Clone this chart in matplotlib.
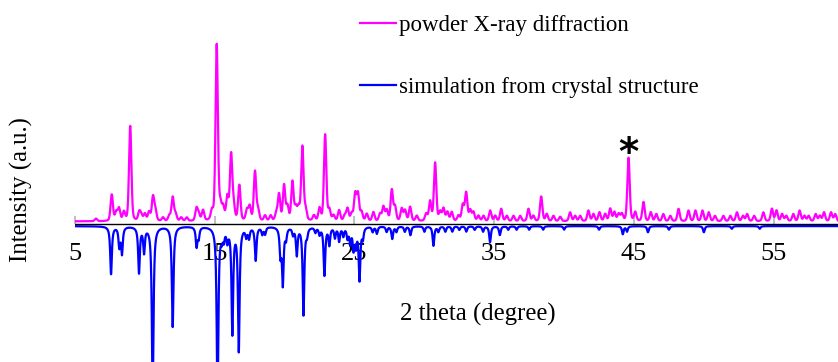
import matplotlib.pyplot as plt
import numpy as np

# peak positions (2 theta) and heights, PXRD scaled so the tallest = 100
pxrd_pos = [6.5, 7.63, 7.95, 8.15, 8.5, 8.95, 9.6, 9.75, 10.0, 10.3, 10.58, 10.75, 11.3, 11.75,
            11.99, 12.2, 12.6, 13.0, 13.69, 13.85, 14.16, 14.8, 15.14, 15.4, 15.6, 15.9, 16.17,
            16.35, 16.76, 17.3, 17.5, 17.88, 18.1, 18.6, 19.0, 19.4, 19.6, 19.96, 20.2, 20.56,
            20.8, 21.0, 21.27, 21.5, 22.1, 22.5, 22.9, 23.2, 23.5, 23.9, 24.3, 24.5, 24.8, 25.05,
            25.25, 25.5, 25.88, 26.35, 26.83, 27.07, 27.31, 27.67, 27.9, 28.38, 28.62, 28.98,
            29.46, 30.13, 30.41, 30.77, 31.13, 31.37, 31.65, 31.96, 32.44, 32.75, 32.99, 33.28,
            33.51, 33.87, 34.23, 34.71, 35.07, 35.5, 35.9, 36.38, 36.86, 37.45, 37.8, 38.36,
            38.76, 39.24, 39.72, 40.43, 40.79, 41.15, 41.74, 42.1, 42.53, 42.94, 43.3, 43.6,
            43.9, 44.13, 44.61, 45.09, 45.68, 46.2, 46.6, 47.1, 47.6, 48.19, 48.9, 49.4, 49.9,
            50.35, 50.8, 51.4, 51.9, 52.37, 52.8, 53.1, 53.6, 54.26, 54.87, 55.2, 55.6, 55.9,
            56.4, 56.85, 57.2, 57.5, 58.0, 58.3, 58.6, 59.1, 59.4]
pxrd_int = [1.5, 15, 5, 7, 5, 54, 5, 3, 4, 5, 13.5, 6, 2, 3,
            13.5, 4, 2, 2, 7, 4, 6, 5, 100, 8, 7, 13, 37,
            8, 20, 6, 8, 28, 6, 3, 3, 4, 15, 20, 8, 22,
            7, 7, 42, 6, 3, 7, 49, 6, 3, 6, 3, 7, 4, 15,
            15, 5, 4, 5, 4, 8, 6, 17.5, 8, 7, 6, 8,
            3, 4, 11, 33, 5, 7, 5, 5, 3, 9, 16, 6,
            5, 3, 3, 6, 3, 7, 3, 3, 3, 7, 3, 14,
            4, 3, 2.5, 5, 3, 3, 6, 4, 5, 4, 7, 5,
            4, 4, 36, 5, 10.8, 5, 4, 4, 3, 7, 6, 6, 6,
            5, 3, 3, 3, 5, 3, 4, 3, 5, 7, 6, 4, 3,
            4, 6, 3, 3, 4, 3, 5, 5, 4]

sim_pos = [7.58, 8.17, 8.36, 9.58, 9.94, 10.56, 11.99, 13.7, 13.85, 15.2, 15.5, 15.65, 15.9,
           16.26, 16.72, 17.25, 17.45, 17.93, 18.4, 18.6, 19.7, 19.87, 20.1, 20.6, 20.87, 21.35,
           21.6, 22.2, 22.5, 22.85, 23.2, 23.6, 23.9, 24.2, 24.5, 24.7, 24.93, 25.1, 25.36,
           25.6, 26.3, 26.6, 27.3, 27.7, 28.0, 28.6, 29.0, 30.0, 30.65, 31.0, 31.5, 32.0,
           32.5, 33.0, 33.6, 34.2, 34.7, 35.4, 36.0, 36.6, 37.5, 38.5, 40.0, 42.5, 44.2,
           44.5, 46.0, 47.5, 50.0, 52.0, 54.0]
sim_int = [27, 11, 15, 26, 14, 95, 57, 11, 6, 100, 5, 6, 7,
           60, 70, 5, 6, 19, 4, 4, 15, 32, 6, 4, 15.7, 50,
           4, 3, 4, 27.5, 10, 6, 8, 5, 6, 9, 12, 10, 30,
           6, 3, 4, 3, 7, 3, 3, 5, 3, 11, 3, 3, 3,
           2, 3, 2, 3, 9, 5, 2, 2, 2, 2, 2, 2, 4.5,
           3, 3.5, 2, 3.5, 1.5, 1.5]

xticks = [5, 15, 25, 35, 45, 55]


def profile(x, pos, hgt, hw, eta):
    y = np.zeros_like(x)
    for p, h in zip(pos, hgt):
        d = (x - p) / hw
        y += h * (eta / (1 + d ** 2) + (1 - eta) * np.exp(-np.log(2) * d ** 2))
    return y


x = np.arange(5, 59.61, 0.005)
y_pxrd = 1.5 + profile(x, pxrd_pos, pxrd_int, 0.1, 0.3)
y_sim = -1.2 - profile(x, sim_pos, sim_int, 0.07, 0.9)

plt.rcParams['font.family'] = ['Liberation Serif', 'DejaVu Serif']

fig = plt.figure(figsize=(8.38, 3.62), dpi=100)
ax = fig.add_axes([75 / 838, 0, 1 - 75 / 838, 1])

l1, = ax.plot(x, y_pxrd, color='#ff00ff', lw=1.6, label='powder X-ray diffraction')
l2, = ax.plot(x, y_sim, color='#0000ff', lw=1.6, label='simulation from crystal structure')
ax.axhline(0, color='black', lw=1, zorder=3)

ax.set_xlim(5, 59.6)
ax.set_ylim(-138 / 1.76, 224 / 1.76)
for s in ['top', 'right', 'left', 'bottom']:
    ax.spines[s].set_visible(False)
ax.spines['bottom'].set_position(('data', 0))
ax.set_yticks([])
ax.set_xticks(xticks)
ax.set_xticklabels([str(t) for t in xticks])
ax.tick_params(axis='x', direction='in', length=6, width=1.5, color='#c0c0c0',
               labelsize=19, pad=14)
ax.patch.set_visible(False)

# asterisk over the extra peak
ax.text(44.61, 40, '*', ha='center', va='center', fontsize=28, fontweight='bold',
        family='DejaVu Sans')

ax.legend(handles=[l1, l2], loc='upper left', bbox_to_anchor=(360 / 838, 1 - 15 / 362),
          bbox_transform=fig.transFigure, frameon=False, fontsize=16.5, borderpad=0,
          borderaxespad=0, labelspacing=1.8, handlelength=1.55, handletextpad=0.15)

fig.text(21 / 838, 1 - 190 / 362, 'Intensity (a.u.)', rotation=90, ha='center', va='center',
         fontsize=17.8)
fig.text(478 / 838, 1 - 314 / 362, '2 theta (degree)', ha='center', va='center', fontsize=17.8)

fig.savefig('out.png', dpi=100)
